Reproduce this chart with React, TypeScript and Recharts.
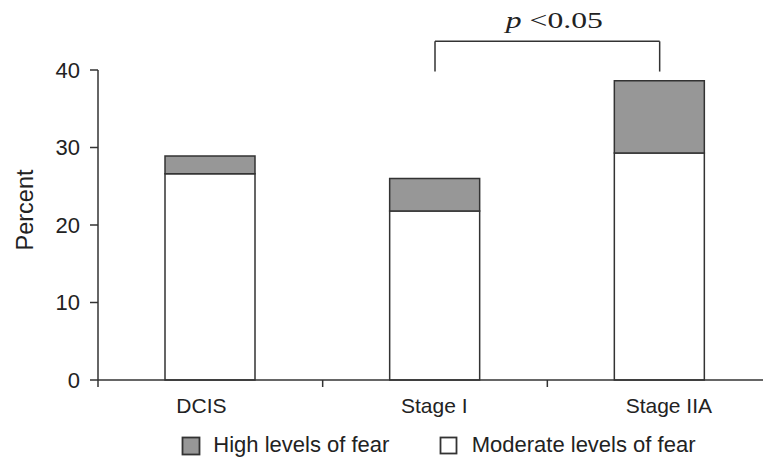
import React from 'react';
import { BarChart, Bar, XAxis, YAxis, ReferenceLine } from 'recharts';

const categories = ['DCIS', 'Stage I', 'Stage IIA'];
const moderateFear = [26.6, 21.8, 29.3];
const highFear = [2.3, 4.2, 9.3];
const yTicks = [0, 10, 20, 30, 40];
const legendLabels = ['High levels of fear', 'Moderate levels of fear'];
const pLabel = { italic: 'p', rest: ' <0.05' };
const bracketTop = 43.7;
const bracketBottom = 39.8;

const data = categories.map((c, i) => ({ name: c, moderate: moderateFear[i], high: highFear[i] }));

const FONT = '"Liberation Sans", Arial, Helvetica, sans-serif';
const SERIF = '"Liberation Serif", "Times New Roman", serif';
const INK = '#222';
const GRAY = '#979797';
const EDGE = '#333';

const XTick = (props: any) => {
  const { x, y, payload } = props;
  const half = payload && payload.offset > 0 ? payload.offset : 112.3;
  return (
    <g>
      <line x1={x - half} x2={x - half} y1={y - 8} y2={y - 1} stroke={EDGE} strokeWidth={1.5} />
      <text x={x - 34} y={y + 25.3} textAnchor="start" fontFamily={FONT} fontSize={21} fill={INK}>
        {payload.value}
      </text>
    </g>
  );
};

const PText = (props: any) => {
  const vb = props.viewBox || {};
  const cx = (vb.x || 0) + (vb.width || 0) / 2 + 7;
  const y = (vb.y || 0) - 13.7;
  return (
    <text x={cx} y={y} textAnchor="middle" fontFamily={SERIF} fontSize={23} fill={INK}
      textLength={97} lengthAdjust="spacingAndGlyphs">
      <tspan fontStyle="italic">{pLabel.italic}</tspan>
      <tspan>{pLabel.rest}</tspan>
    </text>
  );
};

const YLabel = (props: any) => {
  const vb = props.viewBox || {};
  const cy = (vb.y || 0) + (vb.height || 0) / 2 - 15;
  return (
    <text transform={`translate(33, ${cy}) rotate(-90)`} textAnchor="middle" fontFamily={FONT} fontSize={23.5} fill={INK}>
      Percent
    </text>
  );
};

export default function App() {
  return (
    <div style={{ position: 'absolute', left: 0, top: 0, width: 763, height: 462, overflow: 'hidden', background: '#fff' }}>
      <BarChart width={772} height={462} data={data} margin={{ top: 70, right: 0, left: 0, bottom: 52 }}>
        <XAxis
          dataKey="name"
          height={30}
          tickLine={false}
          tickSize={8}
          tickMargin={0}
          axisLine={{ stroke: EDGE, strokeWidth: 1.5 }}
          tick={<XTick />}
          interval={0}
        />
        <YAxis
          width={98}
          domain={[0, 40]}
          ticks={yTicks}
          interval={0}
          tickSize={8}
          tickMargin={10}
          axisLine={{ stroke: EDGE, strokeWidth: 1.5 }}
          tickLine={{ stroke: EDGE, strokeWidth: 1.5 }}
          tick={{ fontFamily: FONT, fontSize: 22, fill: INK }}
          label={<YLabel />}
        />
        <Bar dataKey="moderate" stackId="a" fill="#fff" stroke={EDGE} strokeWidth={1.5} barSize={90} isAnimationActive={false} />
        <Bar dataKey="high" stackId="a" fill={GRAY} stroke={EDGE} strokeWidth={1.5} barSize={90} isAnimationActive={false} />
        <ReferenceLine
          ifOverflow="visible"
          segment={[{ x: 'Stage I', y: bracketTop }, { x: 'Stage IIA', y: bracketTop }]}
          stroke={EDGE}
          strokeWidth={1.5}
          label={<PText />}
        />
        <ReferenceLine
          ifOverflow="visible"
          segment={[{ x: 'Stage I', y: bracketTop }, { x: 'Stage I', y: bracketBottom }]}
          stroke={EDGE}
          strokeWidth={1.5}
        />
        <ReferenceLine
          ifOverflow="visible"
          segment={[{ x: 'Stage IIA', y: bracketTop }, { x: 'Stage IIA', y: bracketBottom }]}
          stroke={EDGE}
          strokeWidth={1.5}
        />
      </BarChart>
      <svg width={763} height={462} style={{ position: 'absolute', left: 0, top: 0, pointerEvents: 'none' }}>
        <rect x={182.5} y={437.5} width={17} height={17} fill={GRAY} stroke={EDGE} strokeWidth={1.8} />
        <text x={213.3} y={452.3} fontFamily={FONT} fontSize={22} fill={INK}>{legendLabels[0]}</text>
        <rect x={440.5} y={437.5} width={16} height={16} fill="#fff" stroke={EDGE} strokeWidth={1.8} />
        <text x={471.7} y={452.3} fontFamily={FONT} fontSize={22} fill={INK}>{legendLabels[1]}</text>
      </svg>
    </div>
  );
}
